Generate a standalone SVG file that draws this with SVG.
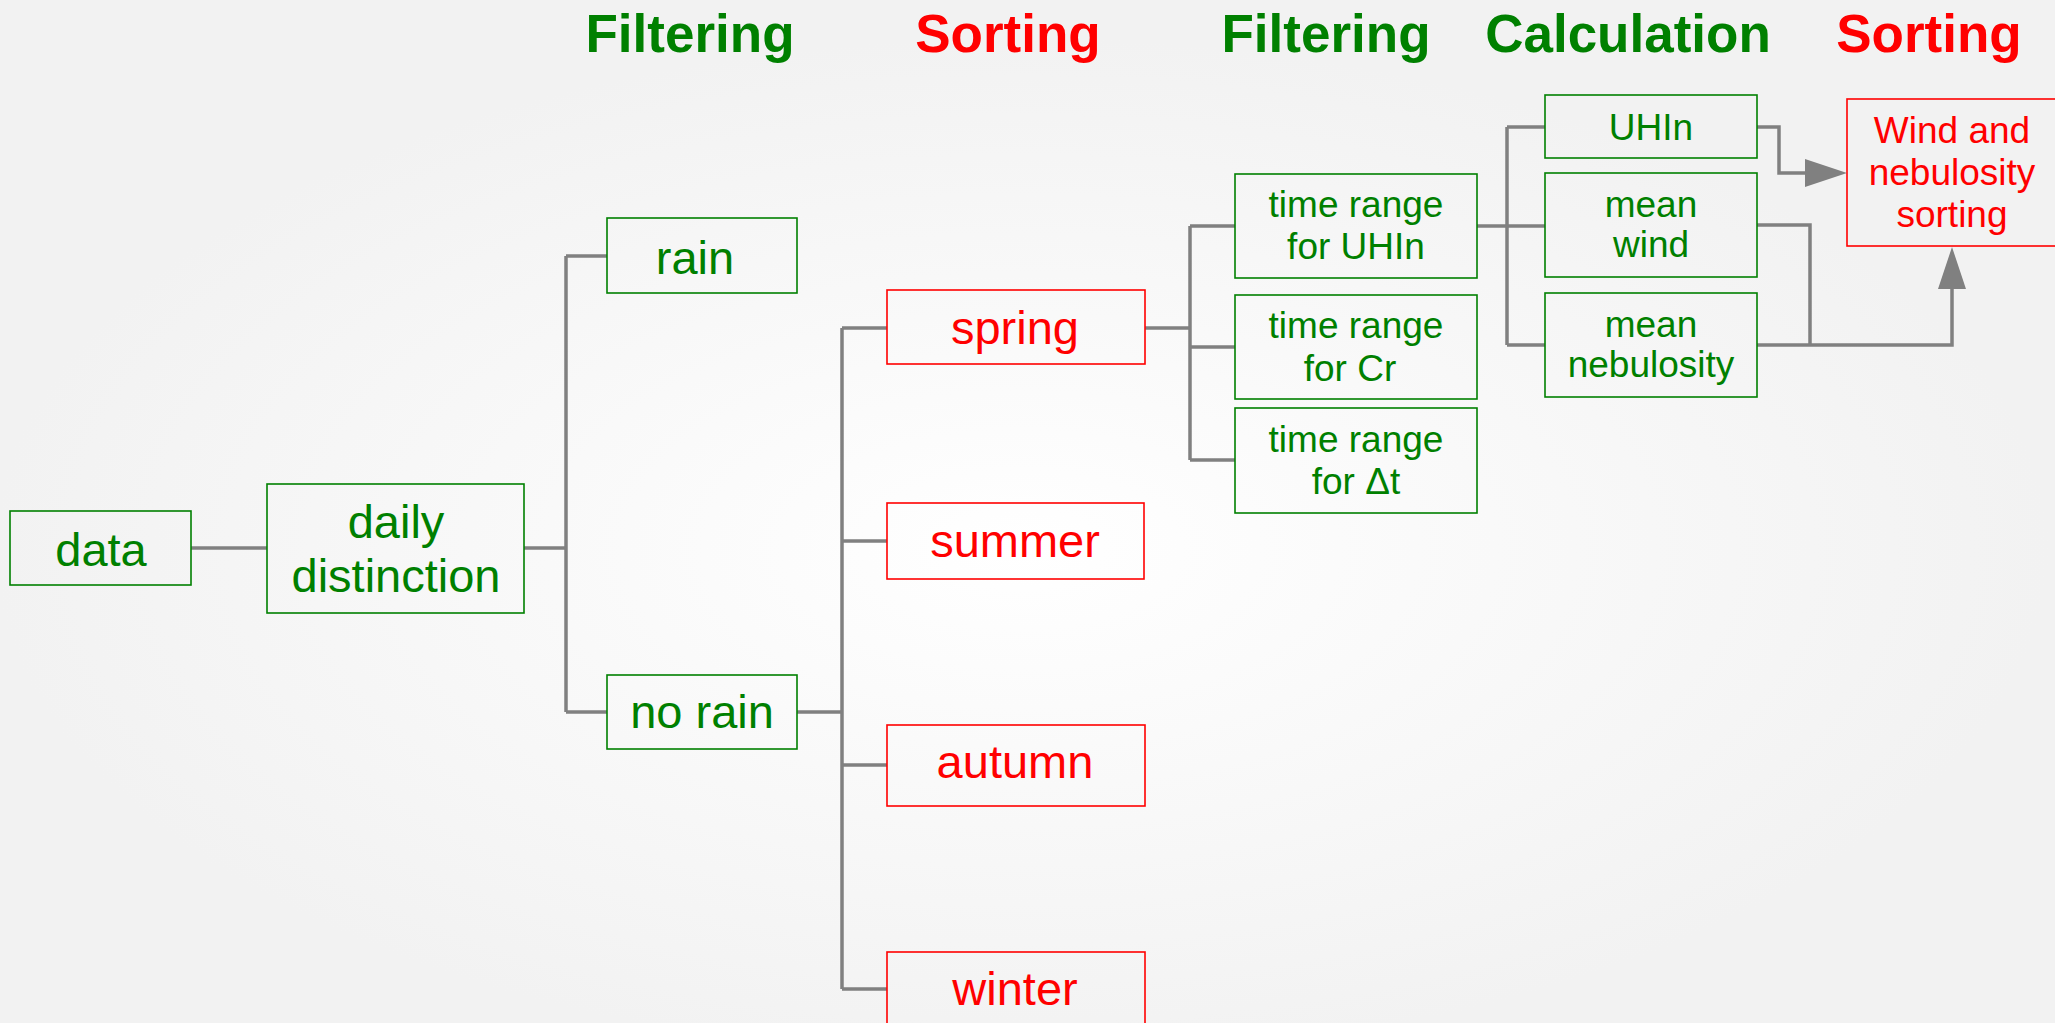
<svg xmlns="http://www.w3.org/2000/svg" width="2055" height="1023" viewBox="0 0 2055 1023">
<defs>
<radialGradient id="bg" cx="0.497" cy="0.537" r="0.5">
<stop offset="0" stop-color="#ffffff"/>
<stop offset="1" stop-color="#f2f2f2"/>
</radialGradient>
<marker id="arr" markerUnits="userSpaceOnUse" markerWidth="42" markerHeight="28" refX="0" refY="14" orient="auto" viewBox="0 0 42 28">
<path d="M0,0 L42,14 L0,28 z" fill="#808080"/>
</marker>
<style>
.g{fill:none;stroke:#008000;stroke-width:1.6}
.r{fill:none;stroke:#ff0000;stroke-width:1.6}
.tg{fill:#008000;font-family:"Liberation Sans",Arial,sans-serif;text-anchor:middle}
.tr{fill:#ff0000;font-family:"Liberation Sans",Arial,sans-serif;text-anchor:middle}
.big{font-size:47px}
.sm{font-size:37px}
.title{font-size:53px;font-weight:bold}
.c{fill:none;stroke:#808080;stroke-width:3.5}
</style>
</defs>
<rect width="2055" height="1023" fill="url(#bg)"/>

<g id="titles">
<text class="tg title" x="690" y="52">Filtering</text>
<text class="tr title" x="1008" y="52">Sorting</text>
<text class="tg title" x="1326" y="52">Filtering</text>
<text class="tg title" x="1628" y="52">Calculation</text>
<text class="tr title" x="1929" y="52">Sorting</text>
</g>

<g id="connectors">
<path class="c" d="M191,548 H267"/>
<path class="c" d="M524,548 H566 M566,256 V712 M566,256 H607 M566,712 H607"/>
<path class="c" d="M797,712 H842 M842,328 V989 M842,328 H887 M842,541 H887 M842,765 H887 M842,989 H887"/>
<path class="c" d="M1145,328 H1190 M1190,226 V460 M1190,226 H1235 M1190,347 H1235 M1190,460 H1235"/>
<path class="c" d="M1477,226 H1545 M1507,127 V345 M1507,127 H1545 M1507,345 H1545"/>
<path class="c" d="M1757,127 H1779 V173 H1805" marker-end="url(#arr)"/>
<path class="c" d="M1757,225 H1810 V345"/>
<path class="c" d="M1757,345 H1952 V289" marker-end="url(#arr)"/>
</g>

<g id="data">
<rect class="g" x="10" y="511" width="181" height="74"/>
<text class="tg big" x="101" y="566">data</text>
</g>
<g id="daily">
<rect class="g" x="267" y="484" width="257" height="129"/>
<text class="tg big" x="396" y="538">daily</text>
<text class="tg big" x="396" y="592">distinction</text>
</g>
<g id="rain">
<rect class="g" x="607" y="218" width="190" height="75"/>
<text class="tg big" x="695" y="274">rain</text>
</g>
<g id="norain">
<rect class="g" x="607" y="675" width="190" height="74"/>
<text class="tg big" x="702" y="728">no rain</text>
</g>
<g id="spring">
<rect class="r" x="887" y="290" width="258" height="74"/>
<text class="tr big" x="1015" y="344">spring</text>
</g>
<g id="summer">
<rect class="r" x="887" y="503" width="257" height="76"/>
<text class="tr big" x="1015" y="557">summer</text>
</g>
<g id="autumn">
<rect class="r" x="887" y="725" width="258" height="81"/>
<text class="tr big" x="1015" y="778">autumn</text>
</g>
<g id="winter">
<rect class="r" x="887" y="952" width="258" height="90"/>
<text class="tr big" x="1015" y="1005">winter</text>
</g>
<g id="trUHIn">
<rect class="g" x="1235" y="174" width="242" height="104"/>
<text class="tg sm" x="1356" y="217">time range</text>
<text class="tg sm" x="1356" y="259">for UHIn</text>
</g>
<g id="trCr">
<rect class="g" x="1235" y="295" width="242" height="104"/>
<text class="tg sm" x="1356" y="338">time range</text>
<text class="tg sm" x="1350" y="381">for Cr</text>
</g>
<g id="trDt">
<rect class="g" x="1235" y="408" width="242" height="105"/>
<text class="tg sm" x="1356" y="452">time range</text>
<text class="tg sm" x="1356" y="494">for Δt</text>
</g>
<g id="uhin">
<rect class="g" x="1545" y="95" width="212" height="63"/>
<text class="tg sm" x="1651" y="140">UHIn</text>
</g>
<g id="meanwind">
<rect class="g" x="1545" y="173" width="212" height="104"/>
<text class="tg sm" x="1651" y="217">mean</text>
<text class="tg sm" x="1651" y="257">wind</text>
</g>
<g id="meanneb">
<rect class="g" x="1545" y="293" width="212" height="104"/>
<text class="tg sm" x="1651" y="337">mean</text>
<text class="tg sm" x="1651" y="377">nebulosity</text>
</g>
<g id="sorting">
<rect class="r" x="1847" y="99" width="212" height="147"/>
<text class="tr sm" x="1952" y="143">Wind and</text>
<text class="tr sm" x="1952" y="185">nebulosity</text>
<text class="tr sm" x="1952" y="227">sorting</text>
</g>
</svg>
